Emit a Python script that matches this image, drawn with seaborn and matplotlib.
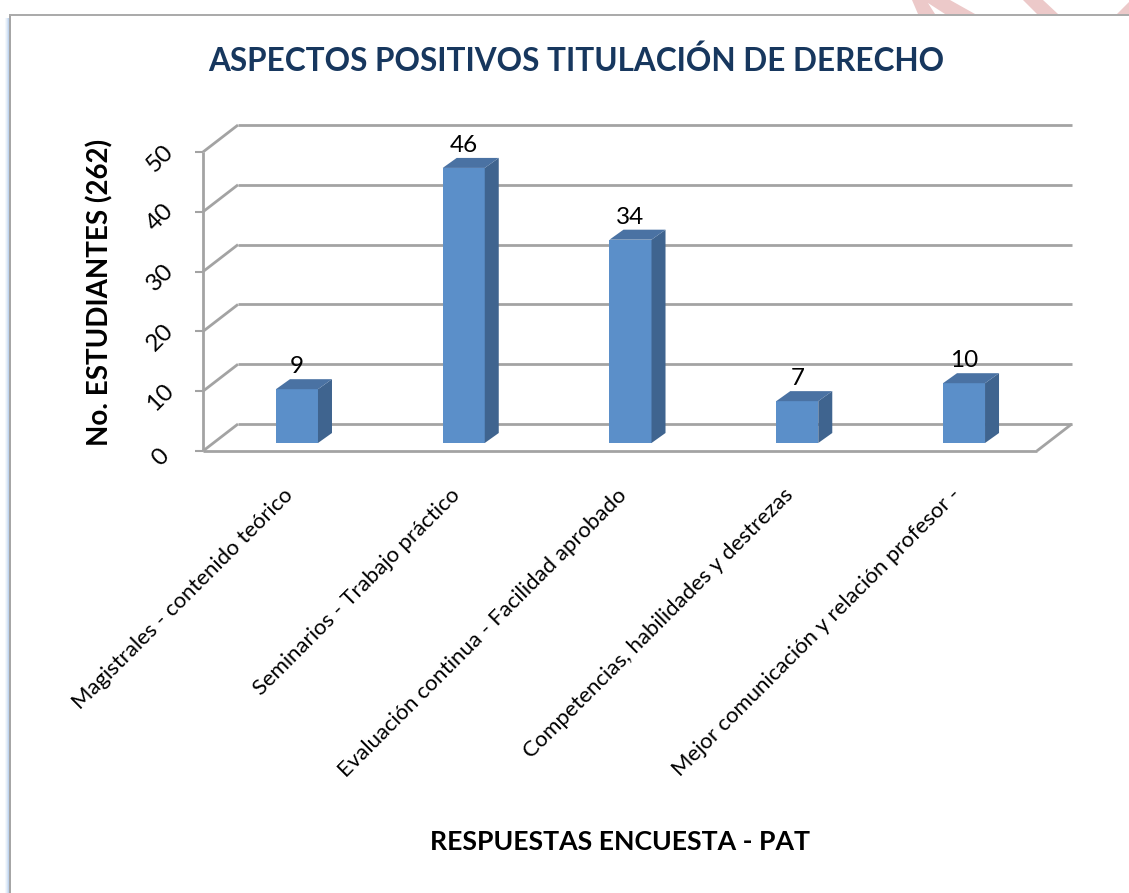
import pandas as pd
import matplotlib
matplotlib.use('Agg')
import matplotlib.pyplot as plt
from matplotlib.patches import Polygon, Rectangle
from matplotlib.transforms import ScaledTranslation
import seaborn as sns

# ── Data ──────────────────────────────────────────────────────────────────────

categories = ['Magistrales - contenido teórico',
              'Seminarios - Trabajo práctico',
              'Evaluación continua - Facilidad aprobado',
              'Competencias, habilidades y destrezas',
              'Mejor comunicación y relación profesor -']
students = [9, 46, 34, 7, 10]
y_ticks = [0, 10, 20, 30, 40, 50]

title = 'ASPECTOS POSITIVOS TITULACIÓN DE DERECHO'
x_title = 'RESPUESTAS ENCUESTA - PAT'
y_title = 'No. ESTUDIANTES (262)'

# ── Style ─────────────────────────────────────────────────────────────────────

sns.set_theme(style='white')
plt.rcParams['font.family'] = ['Lato', 'DejaVu Sans']

W, H = 1129, 893
grid_color = '#A3A3A3'
face_color = '#5B8FC9'
top_color = '#4A72A3'
side_color = '#3F648F'

fig = plt.figure(figsize=(W / 100, H / 100), dpi=100, facecolor='white')

def px_x(x):
    return x / W

def px_y(y):
    return 1 - y / H

left, right, bottom, top = 213.6, 1047.4, 443, 144
ax = fig.add_axes([px_x(left), px_y(bottom), (right - left) / W, (bottom - top) / H])

df = pd.DataFrame({'category': categories, 'students': students})
sns.barplot(data=df, x='category', y='students', color=face_color, saturation=1,
            width=0.252, ax=ax, zorder=3, linewidth=0)
ax.set_xlim(-0.5, 4.5)
ax.set_ylim(0, 50)
ax.set_xlabel('')
ax.set_ylabel('')
sns.despine(ax=ax, left=True, bottom=True, top=True, right=True)
ax.patch.set_alpha(0)

# px -> data scale for the fake 3D offsets
ux = (right - left) / 5
uy = (bottom - top) / 50
back_dx, back_dy = 24.4 / ux, 19 / uy
front_dx, front_dy = -10.6 / ux, -8 / uy
bar_dx, bar_dy = 14 / ux, 10 / uy
x0, x1 = -0.5, 4.5

# ── Walls and floor ───────────────────────────────────────────────────────────

line_kw = dict(color=grid_color, lw=2.0, clip_on=False, zorder=1, solid_capstyle='butt')
for t in y_ticks:
    ax.plot([x0 + back_dx, x1 + back_dx], [t + back_dy, t + back_dy], **line_kw)
    ax.plot([x0 + front_dx, x0 + back_dx], [t + front_dy, t + back_dy], **line_kw)
ax.plot([x0 + front_dx, x0 + front_dx], [y_ticks[0] + front_dy, y_ticks[-1] + front_dy], **line_kw)
ax.plot([x0 + front_dx, x1 + front_dx], [front_dy, front_dy], **line_kw)
ax.plot([x1 + front_dx, x1 + back_dx], [front_dy, back_dy], **line_kw)

# ── Bar sides and tops ────────────────────────────────────────────────────────

for bar in ax.patches[:len(students)]:
    bx0, bx1, h = bar.get_x(), bar.get_x() + bar.get_width(), bar.get_height()
    ax.add_patch(Polygon([(bx1, 0), (bx1 + bar_dx, bar_dy), (bx1 + bar_dx, h + bar_dy), (bx1, h)],
                         facecolor=side_color, edgecolor='none', zorder=3, clip_on=False))
    ax.add_patch(Polygon([(bx0, h), (bx0 + bar_dx, h + bar_dy), (bx1 + bar_dx, h + bar_dy), (bx1, h)],
                         facecolor=top_color, edgecolor='none', zorder=3, clip_on=False))

ax.bar_label(ax.containers[0], labels=[str(v) for v in students], padding=8.6,
             fontsize=17.5, color='black', zorder=5, clip_on=False)

# ── Ticks ─────────────────────────────────────────────────────────────────────

ax.set_yticks(y_ticks)
ax.set_yticklabels([str(t) for t in y_ticks], rotation=45, fontsize=17.5, color='black',
                   va='center', ha='center')
ax.tick_params(axis='y', left=True, length=5.8, width=1.5, color=grid_color, pad=0)
shift = ScaledTranslation(-10.6 / 100, -8 / 100, fig.dpi_scale_trans)
label_shift = ScaledTranslation(-45 / 100, -14 / 100, fig.dpi_scale_trans)
for tick in ax.yaxis.get_major_ticks():
    tick.tick1line.set_transform(tick.tick1line.get_transform() + shift)
    tick.label1.set_transform(tick.label1.get_transform() + label_shift)

ax.tick_params(axis='x', bottom=False, pad=24)
ax.set_xticks(range(len(categories)))
ax.set_xticklabels(categories, rotation=45, ha='right', va='top', rotation_mode='anchor',
                   fontsize=15.9, color='black')
xshift = ScaledTranslation(-14 / 100, 0, fig.dpi_scale_trans)
for tick in ax.xaxis.get_major_ticks():
    tick.label1.set_transform(tick.label1.get_transform() + xshift)

# ── Titles ────────────────────────────────────────────────────────────────────

fig.text(px_x(576), px_y(61), title, ha='center', va='center', fontsize=22.7,
         fontweight='bold', color='#17375E')
fig.text(px_x(620), px_y(842), x_title, ha='center', va='center', fontsize=19.2,
         fontweight='bold', color='black')
fig.text(px_x(100), px_y(292), y_title, ha='center', va='center', rotation=90, fontsize=20,
         fontweight='bold', color='black')

# ── Slide frame and the watermark peeking over it ─────────────────────────────

def fig_poly(points, color):
    fig.add_artist(Polygon([(px_x(x), px_y(y)) for x, y in points], closed=True,
                           facecolor=color, edgecolor='none', transform=fig.transFigure))

def fig_rect(x, y, w, h, color):
    fig.add_artist(Rectangle((px_x(x), px_y(y + h)), w / W, h / H, facecolor=color,
                             edgecolor='none', transform=fig.transFigure))

fig_poly([(912, 0), (950, 0), (975, 14), (945, 14), (928, 3), (935, 14), (918, 14)], '#ECC9C9')
fig_poly([(1023, 0), (1043, 0), (1058, 14), (1037, 14)], '#ECC9C9')
fig_poly([(1117, 14), (1129, 2), (1129, 14)], '#ECC9C9')

for gx, gc in zip(range(5, 9), ['#F4F8FC', '#E6EFF9', '#D5E3F4', '#BFD4EE']):
    fig_rect(gx, 18, 1, H - 18, gc)
fig_rect(9, 14, 2, H - 14, '#A6A6A6')
fig_rect(9, 13.5, W - 9, 2, '#ABABAB')

fig.savefig('out.png', dpi=100)
